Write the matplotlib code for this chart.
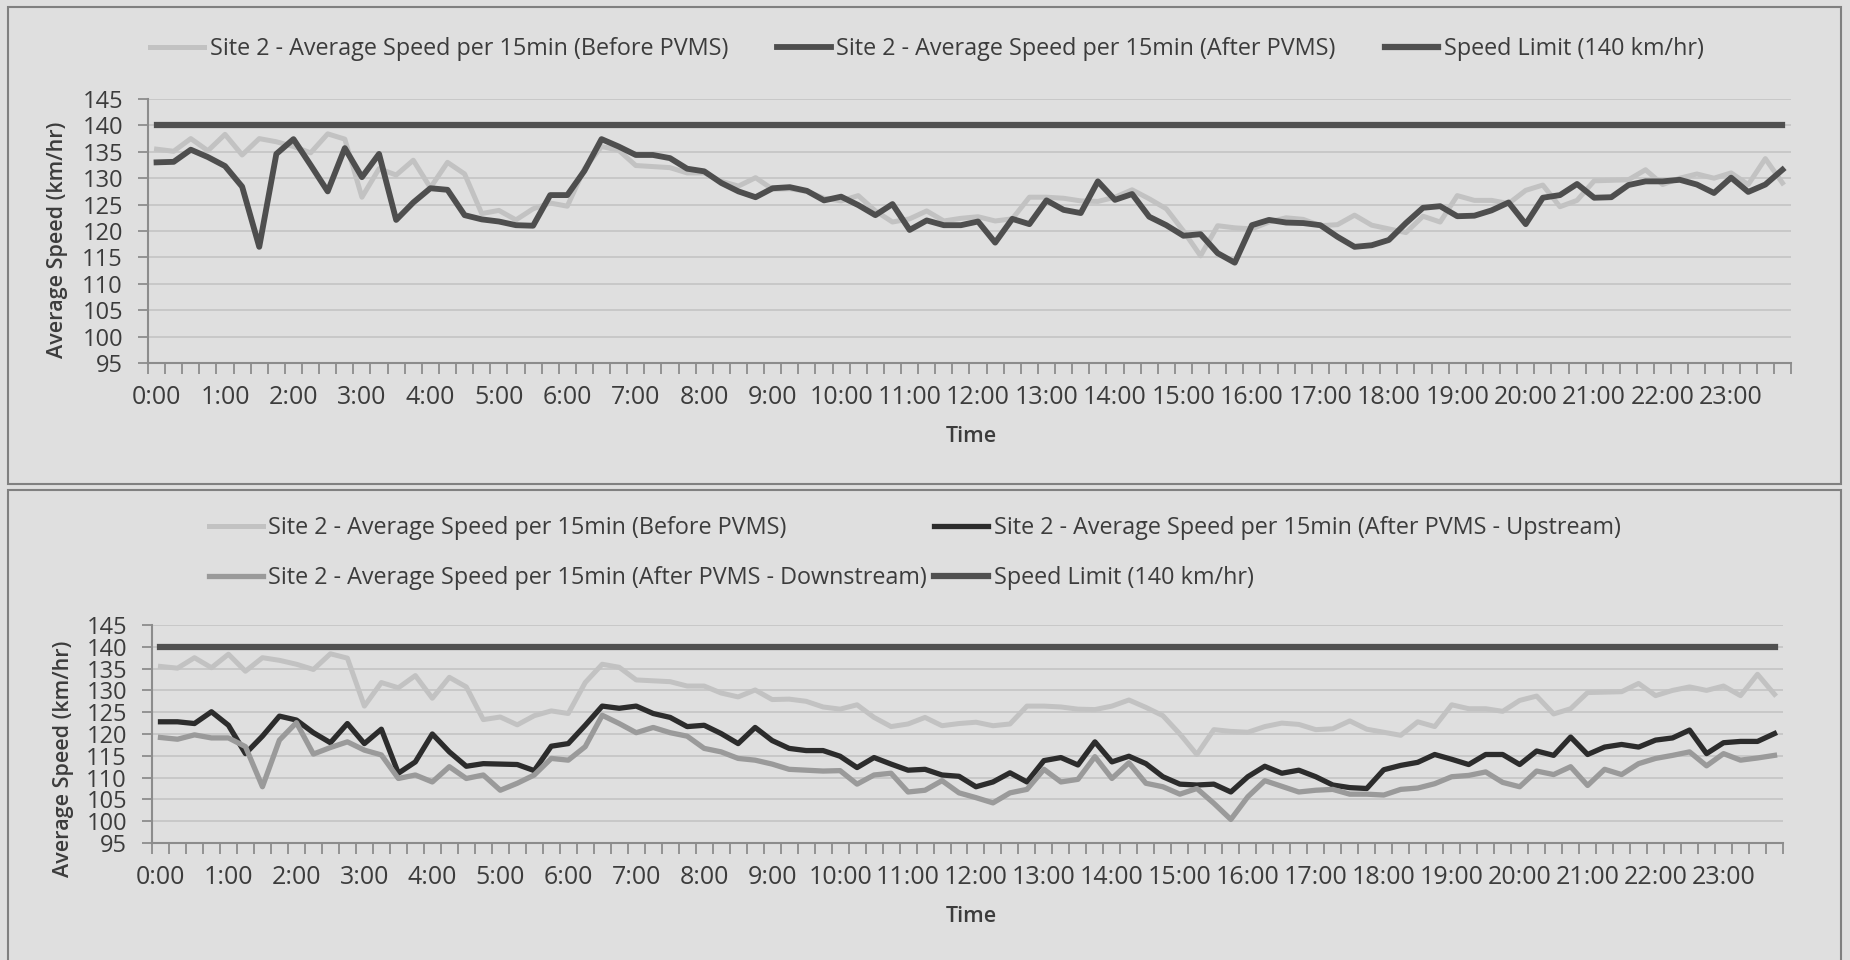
import matplotlib
matplotlib.use("Agg")
import matplotlib.pyplot as plt
from matplotlib.patches import Rectangle
import numpy as np

plt.rcParams['font.family'] = ['Open Sans', 'DejaVu Sans']

# 15-minute intervals over one day
hours = [f"{h}:00" for h in range(24)]
n_slots = 96
speed_limit = 140

# Site 2 average speed per 15 min, before PVMS (km/hr)
before_pvms = [
    135.5, 135.1, 137.5, 135.2, 138.3, 134.4, 137.5, 136.9, 136.0, 134.8, 138.4, 137.4,
    126.4, 131.8, 130.6, 133.4, 128.2, 133.0, 130.8, 123.3, 123.9, 122.1, 124.2, 125.3,
    124.7, 131.8, 136.0, 135.3, 132.4, 132.2, 132.0, 131.0, 131.0, 129.4, 128.5, 130.1,
    127.9, 128.0, 127.5, 126.2, 125.7, 126.7, 123.8, 121.7, 122.3, 123.8, 121.9, 122.4,
    122.7, 121.9, 122.3, 126.4, 126.4, 126.2, 125.7, 125.6, 126.4, 127.8, 126.1, 124.2,
    120.0, 115.3, 121.0, 120.6, 120.4, 121.7, 122.5, 122.2, 121.0, 121.2, 123.0, 121.1,
    120.4, 119.7, 122.8, 121.7, 126.7, 125.8, 125.8, 125.2, 127.7, 128.7, 124.6, 125.8,
    129.5, 129.6, 129.7, 131.6, 128.8, 130.0, 130.8, 130.0, 131.0, 128.8, 133.7, 129.1,
]

# Site 2 average speed per 15 min, after PVMS (km/hr)
after_pvms = [
    133.0, 133.1, 135.4, 134.0, 132.3, 128.4, 117.0, 134.6, 137.4, 132.5, 127.5, 135.7,
    130.2, 134.6, 122.1, 125.4, 128.1, 127.8, 123.0, 122.2, 121.8, 121.1, 121.0, 126.8,
    126.8, 131.4, 137.4, 136.0, 134.4, 134.4, 133.8, 131.8, 131.3, 129.1, 127.5, 126.4,
    128.1, 128.3, 127.6, 125.8, 126.5, 124.9, 123.0, 125.1, 120.2, 122.0, 121.1, 121.1,
    121.8, 117.8, 122.3, 121.3, 125.8, 124.0, 123.4, 129.4, 125.9, 127.0, 122.7, 121.1,
    119.1, 119.4, 115.8, 114.0, 121.1, 122.1, 121.6, 121.5, 121.1, 118.9, 117.0, 117.3,
    118.3, 121.5, 124.4, 124.7, 122.8, 122.9, 123.9, 125.4, 121.3, 126.3, 126.8, 128.9,
    126.3, 126.4, 128.7, 129.4, 129.4, 129.7, 128.8, 127.2, 130.1, 127.4, 128.8, 131.6,
]

# After PVMS, upstream detector (km/hr)
after_upstream = [
    122.8, 122.8, 122.4, 125.1, 122.0, 115.5, 119.5, 124.1, 123.2, 120.3, 118.0, 122.4,
    117.8, 121.1, 111.0, 113.6, 120.0, 115.9, 112.6, 113.2, 113.1, 113.0, 111.6, 117.2,
    117.8, 122.0, 126.4, 125.9, 126.4, 124.7, 123.8, 121.7, 122.0, 120.1, 117.8, 121.5,
    118.5, 116.7, 116.2, 116.2, 114.9, 112.3, 114.6, 113.1, 111.7, 111.9, 110.6, 110.3,
    107.9, 109.0, 111.1, 109.0, 113.9, 114.6, 112.9, 118.2, 113.6, 114.9, 113.2, 110.2,
    108.5, 108.3, 108.5, 106.7, 110.2, 112.6, 111.0, 111.7, 110.2, 108.3, 107.7, 107.5,
    111.8, 112.8, 113.5, 115.3, 114.2, 113.0, 115.3, 115.3, 113.0, 116.1, 115.1, 119.3,
    115.3, 117.0, 117.6, 117.0, 118.6, 119.1, 120.9, 115.5, 118.0, 118.3, 118.3, 120.1,
]

# After PVMS, downstream detector (km/hr)
after_downstream = [
    119.2, 118.8, 119.8, 119.1, 119.1, 117.1, 107.9, 118.6, 122.6, 115.4, 116.9, 118.2,
    116.3, 115.2, 109.8, 110.6, 109.0, 112.5, 109.8, 110.6, 107.1, 108.7, 110.6, 114.4,
    114.0, 117.1, 124.3, 122.4, 120.3, 121.5, 120.3, 119.5, 116.7, 115.9, 114.4, 114.0,
    113.1, 111.9, 111.7, 111.5, 111.6, 108.5, 110.6, 111.0, 106.7, 107.1, 109.3, 106.5,
    105.4, 104.2, 106.5, 107.3, 111.9, 109.0, 109.6, 114.8, 109.8, 113.4, 108.7, 107.9,
    106.2, 107.5, 104.1, 100.4, 105.6, 109.3, 108.0, 106.7, 107.1, 107.3, 106.2, 106.2,
    106.0, 107.3, 107.6, 108.6, 110.2, 110.5, 111.3, 108.9, 107.9, 111.5, 110.7, 112.5,
    108.2, 111.9, 110.7, 113.2, 114.4, 115.1, 115.9, 112.7, 115.5, 114.0, 114.5, 115.1,
]

BG = '#dfdfdf'
TXT = '#3c3c3c'
AXC = '#8c8c8c'
GRID = '#c6c6c6'
C_BEFORE = '#c2c2c2'
C_AFTER = '#4e4e4e'
C_LIMIT = '#505050'
C_UP = '#2c2c2c'
C_DOWN = '#9a9a9a'

LEG_FS = 16.8
W, H = 1850, 960
fig = plt.figure(figsize=(W / 100, H / 100), dpi=100, facecolor=BG)


def fx(px):
    return px / W


def fy(py):
    return 1 - py / H


# panel frames
for (x0, y0, x1, y1) in [(8, 7, 1841, 484), (8, 490, 1841, 965)]:
    fig.add_artist(Rectangle((fx(x0), fy(y1)), fx(x1 - x0), (y1 - y0) / H,
                             transform=fig.transFigure, facecolor=BG,
                             edgecolor='#808080', linewidth=1.5, zorder=0))


def style_axes(ax):
    ax.set_facecolor('none')
    x = np.arange(n_slots)
    ax.set_xlim(-0.5, n_slots - 0.5)
    ax.set_ylim(95, 145)
    ax.set_yticks(np.arange(95, 146, 5))
    ax.set_xticks(np.arange(-0.5, n_slots, 1.0))
    ax.set_xticks(x[::4], minor=True)
    ax.set_xticklabels(hours, minor=True)
    ax.tick_params(axis='x', which='major', labelbottom=False, length=8,
                   width=1.3, color=AXC, direction='out')
    ax.tick_params(axis='x', which='minor', length=0, pad=16,
                   labelsize=18, labelcolor=TXT)
    ax.tick_params(axis='y', length=7, width=1.3, color=AXC, direction='out',
                   labelsize=17, labelcolor=TXT, pad=11)
    ax.grid(axis='y', color=GRID, linewidth=1.3)
    ax.set_axisbelow(True)
    for s in ['top', 'right']:
        ax.spines[s].set_visible(False)
    for s in ['left', 'bottom']:
        ax.spines[s].set_color(AXC)
        ax.spines[s].set_linewidth(1.5)
    return x


# ---- top chart ----
ax1 = fig.add_axes([fx(148), fy(363), fx(1791 - 148), (363 - 99) / H])
x = style_axes(ax1)
l1, = ax1.plot(x, before_pvms, color=C_BEFORE, lw=3.6,
               label='Site 2 - Average Speed per 15min (Before PVMS)')
l2, = ax1.plot(x, after_pvms, color=C_AFTER, lw=4.2,
               label='Site 2 - Average Speed per 15min (After PVMS)')
l3, = ax1.plot(x, [speed_limit] * n_slots, color=C_LIMIT, lw=4.5,
               label='Speed Limit (140 km/hr)')
fig.legend(handles=[l1, l2, l3], loc='center left', ncol=3,
           bbox_to_anchor=(fx(150), fy(49)), frameon=False, fontsize=LEG_FS,
           handlelength=2.3, handletextpad=0.25, columnspacing=2.1,
           labelcolor=TXT, borderaxespad=0, borderpad=0)
fig.text(fx(58), fy(240), 'Average Speed (km/hr)', rotation=90, ha='center',
         va='center', fontsize=15.5, fontweight='semibold', color=TXT)
fig.text(fx(971), fy(437), 'Time', ha='center', va='center', fontsize=15.5,
         fontweight='semibold', color=TXT)

# ---- bottom chart ----
ax2 = fig.add_axes([fx(152), fy(843), fx(1783 - 152), (843 - 625) / H])
x = style_axes(ax2)
b1, = ax2.plot(x, before_pvms, color=C_BEFORE, lw=3.6,
               label='Site 2 - Average Speed per 15min (Before PVMS)')
b2, = ax2.plot(x, after_upstream, color=C_UP, lw=3.8,
               label='Site 2 - Average Speed per 15min (After PVMS - Upstream)')
b3, = ax2.plot(x, after_downstream, color=C_DOWN, lw=3.8,
               label='Site 2 - Average Speed per 15min (After PVMS - Downstream)')
b4, = ax2.plot(x, [speed_limit] * n_slots, color=C_LIMIT, lw=4.5,
               label='Speed Limit (140 km/hr)')
fig.legend(handles=[b1, b3, b2, b4], loc='center left', ncol=2,
           bbox_to_anchor=(fx(209), fy(553)), frameon=False, fontsize=LEG_FS,
           handlelength=2.3, handletextpad=0.25, columnspacing=0.3,
           labelspacing=1.1, labelcolor=TXT, borderaxespad=0, borderpad=0)
fig.text(fx(64), fy(759), 'Average Speed (km/hr)', rotation=90, ha='center',
         va='center', fontsize=15.5, fontweight='semibold', color=TXT)
fig.text(fx(971), fy(917), 'Time', ha='center', va='center', fontsize=15.5,
         fontweight='semibold', color=TXT)

fig.savefig('out.png', dpi=100, facecolor=BG)
